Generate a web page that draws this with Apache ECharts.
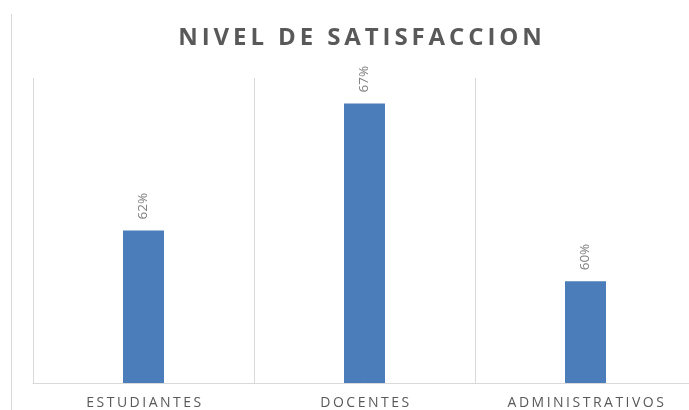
<!DOCTYPE html>
<html><head><meta charset="utf-8">
<script src="https://cdn.jsdelivr.net/npm/echarts@6/dist/echarts.min.js"></script>
<style>html,body{margin:0;padding:0;background:#fff;overflow:hidden}#c{width:700px;height:410px}</style>
</head><body><div id="c"></div>
<script>
const titleText = "NIVEL DE SATISFACCION";
const categories = ["ESTUDIANTES", "DOCENTES", "ADMINISTRATIVOS"];
const satisfaction = [62, 67, 60];

// letter spacing (as in the original Office chart) for title and category labels
(function () {
  const proto = CanvasRenderingContext2D.prototype;
  const orig = proto.fillText;
  proto.fillText = function (t, x, y, m) {
    const f = this.font || '';
    let ls = '0px';
    if (/bold/.test(f) && /24px/.test(f)) ls = '3.9px';
    else if (/(^|\s)14px/.test(f)) ls = '2.5px';
    if ('letterSpacing' in this) this.letterSpacing = ls;
    return m === undefined ? orig.call(this, t, x, y) : orig.call(this, t, x, y, m);
  };
})();

const chart = echarts.init(document.getElementById('c'), null, {renderer: 'canvas'});
chart.setOption({
  animation: false,
  title: {
    text: titleText, left: 357, top: 21, textAlign: 'center',
    textStyle: {fontFamily: 'Open Sans', fontWeight: 'bold', fontSize: 24, color: '#595959'}
  },
  graphic: [{type: 'line', shape: {x1: 11.5, y1: 14, x2: 11.5, y2: 410}, style: {stroke: '#d9d9d9', lineWidth: 1}}],
  grid: {left: 33, top: 78, right: 4, bottom: 27, containLabel: false},
  xAxis: {
    type: 'category', data: categories,
    axisLine: {show: true, lineStyle: {color: '#d9d9d9', width: 1}},
    axisTick: {show: false},
    splitLine: {show: true, interval: 0, lineStyle: {color: '#d9d9d9', width: 1}},
    axisLabel: {color: '#595959', fontFamily: 'Open Sans', fontSize: 14, margin: 13, padding: [0, 0, 0, 3]}
  },
  yAxis: {type: 'value', min: 56, max: 68, show: false, splitLine: {show: false}},
  series: [{
    type: 'bar', data: satisfaction, barWidth: 41,
    itemStyle: {color: '#4A7DBA'},
    label: {
      show: true, position: 'top', rotate: 90, align: 'left', verticalAlign: 'middle', distance: 11,
      formatter: p => p.value + '%', color: '#808080', fontFamily: 'Open Sans', fontSize: 13.5
    }
  }]
});
</script></body></html>
